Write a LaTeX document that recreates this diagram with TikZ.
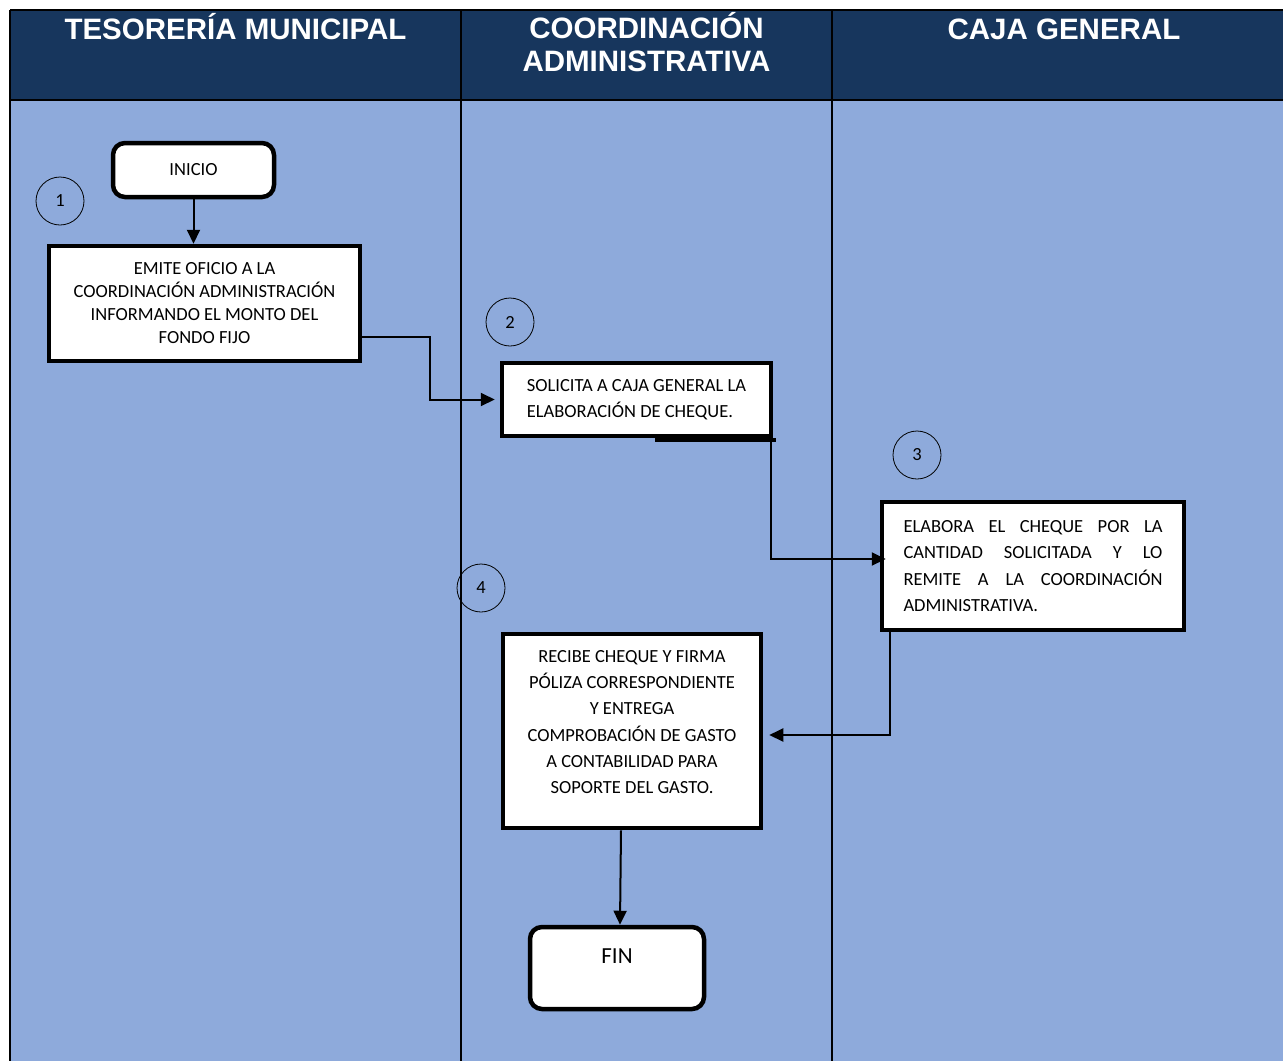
\documentclass[tikz,border=0pt]{standalone}
\usepackage{fontspec}
\setmainfont{Carlito}
\newfontfamily\headfont{Liberation Sans}
\usetikzlibrary{arrows.meta,calc}
\definecolor{headblue}{HTML}{17365D}
\definecolor{laneblue}{HTML}{8EAADB}
\begin{document}
\begin{tikzpicture}[x=1pt,y=-1pt,
  lane/.style={line width=1.6pt},
  box/.style={draw, fill=white, line width=4.5pt, inner sep=0pt,
    font=\fontsize{18.5}{23}\selectfont},
  startstop/.style={box, rounded corners=12pt},
  num/.style={draw, circle, line width=0.8pt, minimum size=48pt, inner sep=0pt,
    font=\fontsize{18.5}{20}\selectfont},
  flow/.style={line width=2pt, -{Triangle[length=14pt,width=13pt]}},
  head/.style={text=white, inner sep=0pt, align=center,
    font=\headfont\bfseries\fontsize{29.5}{33}\selectfont}
]
\useasboundingbox (0,0) rectangle (1283,1061);
\fill[white] (0,0) rectangle (1283,1061);

% swimlanes
\fill[laneblue] (10,100) rectangle (1283,1061);
\fill[headblue] (10,10) rectangle (1283,100);
\draw[lane] (10,10) -- (1283,10);
\draw[lane] (10,100) -- (1283,100);
\draw[lane] (10,10) -- (10,1061);
\draw[lane] (461,10) -- (461,1061);
\draw[lane] (832,10) -- (832,1061);

\node[head, anchor=base] (h1) at (235.5,39) {TESORERÍA MUNICIPAL};
\node[head, anchor=north] (h2) at (646.5,12) {COORDINACIÓN\\ADMINISTRATIVA};
\node[head, anchor=base] (h3) at (1064,39) {CAJA GENERAL};

% step numbers
\node[num] (n1) at (60,201) {1};
\node[num] (n2) at (510,322) {2};
\node[num] (n3) at (917,455) {3};
\node[num] (n4) at (481,588) {4};

% process boxes
\node[startstop, minimum width=161pt, minimum height=54pt] (ini) at (193.5,170) {INICIO};

\node[box, minimum width=311pt, minimum height=115pt, align=center] (b1) at (204.5,303.5)
  {EMITE OFICIO A LA\\COORDINACIÓN ADMINISTRACIÓN\\INFORMANDO EL MONTO DEL\\FONDO FIJO};

\node[box, minimum width=269pt, minimum height=73pt, align=left,
  font=\fontsize{18.5}{26}\selectfont] (b2) at (636.5,399.5)
  {SOLICITA A CAJA GENERAL LA\\ELABORACIÓN DE CHEQUE.};
\fill ($(b2.south east)+(-118,0)$) rectangle ($(b2.south east)+(2.25,3.5)$);

\node[box, minimum width=302pt, minimum height=128pt, text width=259pt, align=justify,
  font=\fontsize{18.5}{26.3}\selectfont] (b3) at (1033,566)
  {ELABORA EL CHEQUE POR LA\linebreak CANTIDAD SOLICITADA Y LO\linebreak REMITE A LA COORDINACIÓN\linebreak ADMINISTRATIVA.};

\node[box, minimum width=258pt, minimum height=194pt] (b4) at (632,731) {};
\node[align=center, inner sep=0pt, font=\fontsize{18.5}{26.2}\selectfont] (b4t)
  at ([yshift=9pt]b4.center)
  {RECIBE CHEQUE Y FIRMA\\PÓLIZA CORRESPONDIENTE\\Y ENTREGA\\COMPROBACIÓN DE GASTO\\A CONTABILIDAD PARA\\SOPORTE DEL GASTO.};

\node[startstop, minimum width=174pt, minimum height=82pt, font=\fontsize{23}{26}\selectfont,
  text height=16pt, text depth=25pt] (fin) at (617,968) {FIN};

% connectors
\draw[flow] (ini.south) -- (ini.south |- b1.north);
\draw[flow] ($(b1.south east)+(0,-26)$) -- ++(68,0) |- ($(b2.west)+(-5,0)$);
\draw[flow] ($(b2.south east)+(-2,0)$) |- ($(b3.west)+(6,-7)$);
\draw[flow] ($(b3.south west)+(10,0)$) |- ($(b4.east)+(6,4)$);
\draw[flow] ($(b4.south)+(-11,0)$) -- ($(fin.north)+(3,0)$);
\end{tikzpicture}
\end{document}
